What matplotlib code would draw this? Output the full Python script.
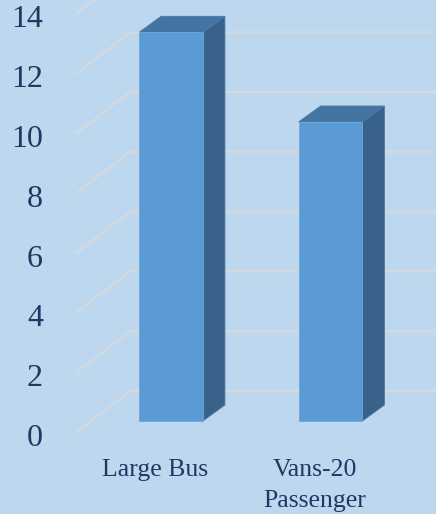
import matplotlib.pyplot as plt
from matplotlib.patches import Polygon

# data
categories = ['Large Bus', 'Vans-20\nPassenger']
values = [13, 10]
ticks = [0, 2, 4, 6, 8, 10, 12, 14]

BG = '#BDD7EE'
FRONT = '#5B9BD5'
SIDE = '#386289'
TOP = '#4475A2'
GRID = '#D6D9DC'
TXT = '#1F3864'

plt.rcParams['font.family'] = 'serif'
plt.rcParams['font.serif'] = ['Liberation Serif', 'DejaVu Serif']

W, H, DPI = 436, 514, 100
# front plane of the bars: x=0 at px 171, 159.5 px per category, y=0 at px 421 (from top), 29.9 px per unit
px_x, px_y = 159.5, 29.9
x0_px, y0_px = 171, 421


def main():
    fig = plt.figure(figsize=(W / DPI, H / DPI), dpi=DPI, facecolor=BG)
    ax = fig.add_axes([0, 0, 1, 1])
    ax.set_facecolor(BG)
    ax.set_xlim(-x0_px / px_x, (W - x0_px) / px_x)
    ax.set_ylim((y0_px - H) / px_y, y0_px / px_y)
    ax.axis('off')

    # offsets (px) of other depth planes, converted to data units
    def off(dx, dy):
        return dx / px_x, dy / px_y

    fx, fy = off(-16, -12)   # floor front edge
    bx, by = off(39, 30)     # back wall
    sx, sy = off(22, 16)     # bar depth

    # gridlines: left wall diagonal + back wall horizontal
    for v in ticks:
        ax.plot([-0.5 + fx, -0.5 + bx, 2.0 + bx], [v + fy, v + by, v + by],
                color=GRID, lw=1.5, zorder=1, solid_capstyle='butt')
        ax.text(-x0_px / px_x + 43 / px_x, v + fy - 13 / px_y, str(v), ha='right', va='baseline',
                fontsize=23, color=TXT)

    width = 0.4
    xs = list(range(len(values)))
    ax.bar(xs, values, width=width, color=FRONT, edgecolor='#6FA6D8', lw=0.6, zorder=3)
    for x, v in zip(xs, values):
        r = x + width / 2
        l = x - width / 2
        side = [(r, 0), (r + sx, sy), (r + sx, v + sy), (r, v)]
        top = [(l, v), (r, v), (r + sx, v + sy), (l + sx, v + sy)]
        ax.add_patch(Polygon(side, closed=True, facecolor=SIDE, edgecolor='#4A76A0', lw=0.6, zorder=2))
        ax.add_patch(Polygon(top, closed=True, facecolor=TOP, edgecolor='#4A7AA8', lw=0.6, zorder=2))

    for x, c in zip(xs, categories):
        for i, line in enumerate(c.split('\n')):
            ax.text(x + fx, fy - (43 + 31 * i) / px_y, line, ha='center', va='baseline',
                    fontsize=18.5, color=TXT)

    fig.savefig('out.png', dpi=DPI, facecolor=BG)


if __name__ == "__main__":
    main()
